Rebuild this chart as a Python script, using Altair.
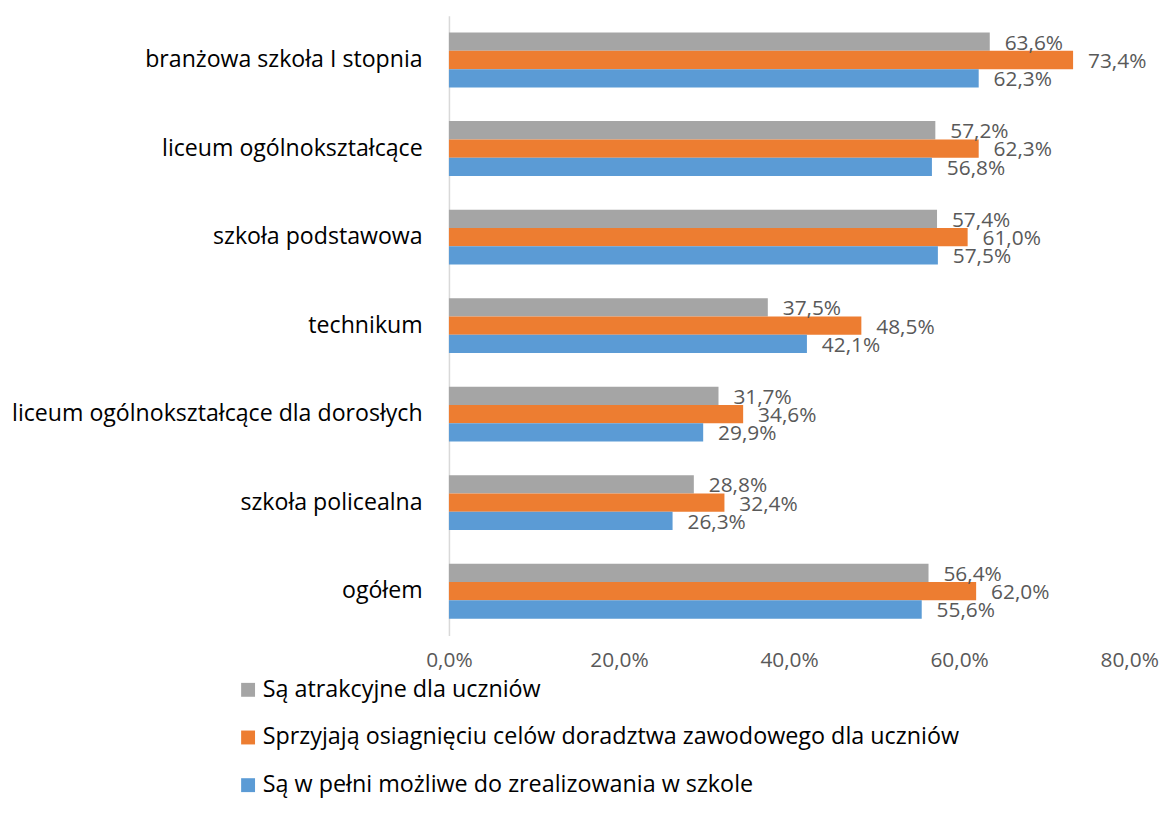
import altair as alt
import pandas as pd

categories = [
    "branżowa szkoła I stopnia",
    "liceum ogólnokształcące",
    "szkoła podstawowa",
    "technikum",
    "liceum ogólnokształcące dla dorosłych",
    "szkoła policealna",
    "ogółem",
]
series_names = [
    "Są atrakcyjne dla uczniów",
    "Sprzyjają osiagnięciu celów doradztwa zawodowego dla uczniów",
    "Są w pełni możliwe do zrealizowania w szkole",
]
gray_vals = [63.6, 57.2, 57.4, 37.5, 31.7, 28.8, 56.4]
orange_vals = [73.4, 62.3, 61.0, 48.5, 34.6, 32.4, 62.0]
blue_vals = [62.3, 56.8, 57.5, 42.1, 29.9, 26.3, 55.6]
colors = ["#A5A5A5", "#ED7D31", "#5B9BD5"]
tick_values = [0, 20, 40, 60, 80]

rows = []
for name, vals in zip(series_names, [gray_vals, orange_vals, blue_vals]):
    for c, v in zip(categories, vals):
        rows.append({"cat": c, "series": name, "value": v,
                     "label": f"{v:.1f}%".replace(".", ",")})
df = pd.DataFrame(rows)

FONT = "Open Sans"

y_enc = alt.Y("cat:N", sort=categories, title=None,
              scale=alt.Scale(paddingInner=0.38, paddingOuter=0.19),
              axis=alt.Axis(labelFontSize=23.3, labelColor="#000000", labelFont=FONT,
                            ticks=False, domainColor="#D9D9D9", domainWidth=1.5,
                            labelPadding=27, labelLimit=600))
yoff = alt.YOffset("series:N", sort=series_names,
                   scale=alt.Scale(domain=series_names, paddingInner=0, paddingOuter=0))
x_enc = alt.X("value:Q", title=None,
              scale=alt.Scale(domain=[0, 80], nice=False),
              axis=alt.Axis(values=tick_values, grid=False, domain=False, ticks=False,
                            labelFontSize=21, labelColor="#595959", labelFont=FONT,
                            labelPadding=14, labelFlush=False, labelOverlap=False,
                            labelExpr="replace(format(datum.value, '.1f'), '.', ',') + '%'"))

bars = alt.Chart(df).mark_bar().encode(
    x=x_enc,
    y=y_enc,
    yOffset=yoff,
    color=alt.Color("series:N", sort=series_names,
                    scale=alt.Scale(domain=series_names, range=colors),
                    legend=alt.Legend(title=None, orient="none", legendX=-214, legendY=667,
                                      direction="vertical", symbolType="square",
                                      symbolSize=196, symbolStrokeWidth=0,
                                      labelFontSize=23.5, labelFont=FONT, labelColor="#000000",
                                      labelLimit=900, rowPadding=23, labelOffset=3)),
)

text = alt.Chart(df).mark_text(align="left", baseline="middle", dx=15, dy=2,
                               fontSize=21, font=FONT, color="#595959").encode(
    x="value:Q",
    y=alt.Y("cat:N", sort=categories),
    yOffset=yoff,
    text="label:N",
)

chart = (bars + text).properties(
    width=685, height=624,
    autosize=alt.AutoSizeParams(type="none"),
    padding={"left": 444, "top": 5, "right": 30, "bottom": 180},
).configure(font=FONT).configure_view(stroke=None, strokeWidth=0)

chart.save("out.html", embed_options={"renderer": "svg", "actions": False})
